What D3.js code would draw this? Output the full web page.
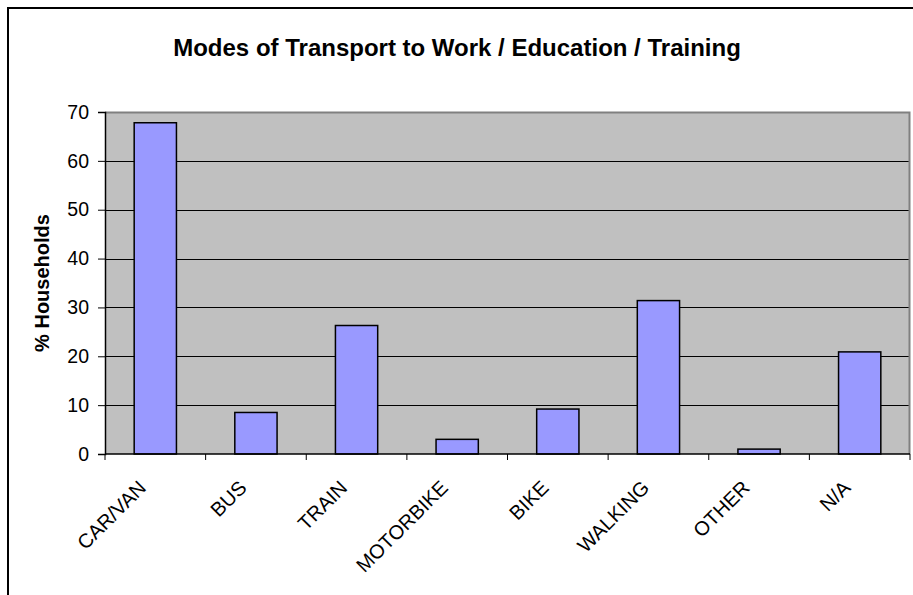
<!DOCTYPE html>
<html>
<head>
<meta charset="utf-8">
<script src="https://cdn.jsdelivr.net/npm/d3@7"></script>
<style>
  body { margin: 0; background: #fff; }
  svg { display: block; font-family: "Liberation Sans", Arial, sans-serif; }
</style>
</head>
<body>
<div id="vis"></div>
<script>
// chart data
const CATEGORIES = ["CAR/VAN", "BUS", "TRAIN", "MOTORBIKE", "BIKE", "WALKING", "OTHER", "N/A"];
const VALUES = [67.8, 8.5, 26.3, 3.0, 9.2, 31.4, 1.0, 20.9];
const Y_TICKS = [0, 10, 20, 30, 40, 50, 60, 70];
const TITLE = "Modes of Transport to Work / Education / Training";
const Y_LABEL = "% Households";

// frame
const FRAME_WIDTH = 913;
const FRAME_HEIGHT = 595;
const PLOT = {left: 105, right: 910, top: 112, bottom: 454};

const svg = d3.select("#vis")
  .append("svg")
  .attr("width", FRAME_WIDTH)
  .attr("height", FRAME_HEIGHT);

// outer chart border
svg.append("rect")
  .attr("x", 8).attr("y", 8)
  .attr("width", 1000).attr("height", 1000)
  .attr("fill", "none")
  .attr("stroke", "#000")
  .attr("stroke-width", 2);

// scales
const X_SCALE = d3.scaleBand()
  .domain(CATEGORIES)
  .range([PLOT.left, PLOT.right])
  .padding(0);

const Y_SCALE = d3.scaleLinear()
  .domain([0, 70])
  .range([PLOT.bottom, PLOT.top]);

// plot background
svg.append("rect")
  .attr("x", PLOT.left)
  .attr("y", PLOT.top)
  .attr("width", PLOT.right - PLOT.left)
  .attr("height", PLOT.bottom - PLOT.top)
  .attr("fill", "#c0c0c0");

// gridlines
svg.append("g")
  .selectAll("line")
  .data(Y_TICKS.filter(d => d > 0 && d < 70))
  .enter()
  .append("line")
  .attr("x1", PLOT.left)
  .attr("x2", PLOT.right)
  .attr("y1", d => Math.round(Y_SCALE(d)) + 0.5)
  .attr("y2", d => Math.round(Y_SCALE(d)) + 0.5)
  .attr("stroke", "#000")
  .attr("stroke-width", 1);

// plot border (top / right gray)
svg.append("path")
  .attr("d", `M${PLOT.left},${PLOT.top + 0.5}H${PLOT.right - 0.5}V${PLOT.bottom}`)
  .attr("fill", "none")
  .attr("stroke", "#808080")
  .attr("stroke-width", 2);

// bars
const BAR_W = X_SCALE.bandwidth() * 0.42;
svg.append("g")
  .selectAll("rect")
  .data(VALUES)
  .enter()
  .append("rect")
  .attr("x", (d, i) => X_SCALE(CATEGORIES[i]) + X_SCALE.bandwidth() / 2 - BAR_W / 2)
  .attr("y", d => Y_SCALE(d))
  .attr("width", BAR_W)
  .attr("height", d => Y_SCALE(0) - Y_SCALE(d))
  .attr("fill", "#9999ff")
  .attr("stroke", "#000")
  .attr("stroke-width", 1.5);

// y axis
const yAxis = svg.append("g")
  .attr("transform", `translate(${PLOT.left},0)`)
  .call(d3.axisLeft(Y_SCALE).tickValues(Y_TICKS).tickSizeOuter(0).tickSize(7).tickPadding(9));
yAxis.select(".domain").attr("stroke", "#000").attr("stroke-width", 1.5);
yAxis.selectAll("line").attr("stroke", "#000");
yAxis.selectAll("text")
  .attr("font-size", "19.5px")
  .attr("font-family", "Liberation Sans, Arial, sans-serif")
  .attr("fill", "#000");

// x axis: ticks at category boundaries
const xAxis = svg.append("g");
xAxis.append("line")
  .attr("x1", PLOT.left).attr("x2", PLOT.right)
  .attr("y1", PLOT.bottom).attr("y2", PLOT.bottom)
  .attr("stroke", "#000").attr("stroke-width", 1.5);
xAxis.selectAll(".tick")
  .data(CATEGORIES.concat(["end"]))
  .enter()
  .append("line")
  .attr("x1", (d, i) => i < CATEGORIES.length ? X_SCALE(d) : PLOT.right)
  .attr("x2", (d, i) => i < CATEGORIES.length ? X_SCALE(d) : PLOT.right)
  .attr("y1", PLOT.bottom)
  .attr("y2", PLOT.bottom + 6)
  .attr("stroke", "#000");

xAxis.selectAll("text")
  .data(CATEGORIES)
  .enter()
  .append("text")
  .attr("transform", d => `translate(${X_SCALE(d) + X_SCALE.bandwidth() / 2 - 8},${PLOT.bottom + 35}) rotate(-45)`)
  .attr("text-anchor", "end")
  .attr("font-size", "20px")
  .attr("fill", "#000")
  .text(d => d);

// title
svg.append("text")
  .attr("x", 457)
  .attr("y", 56)
  .attr("text-anchor", "middle")
  .attr("font-size", "24px")
  .attr("font-weight", "bold")
  .text(TITLE);

// y label
svg.append("text")
  .attr("transform", `translate(49,${(PLOT.top + PLOT.bottom) / 2}) rotate(-90)`)
  .attr("text-anchor", "middle")
  .attr("font-size", "20px")
  .attr("font-weight", "bold")
  .text(Y_LABEL);
</script>
</body>
</html>
